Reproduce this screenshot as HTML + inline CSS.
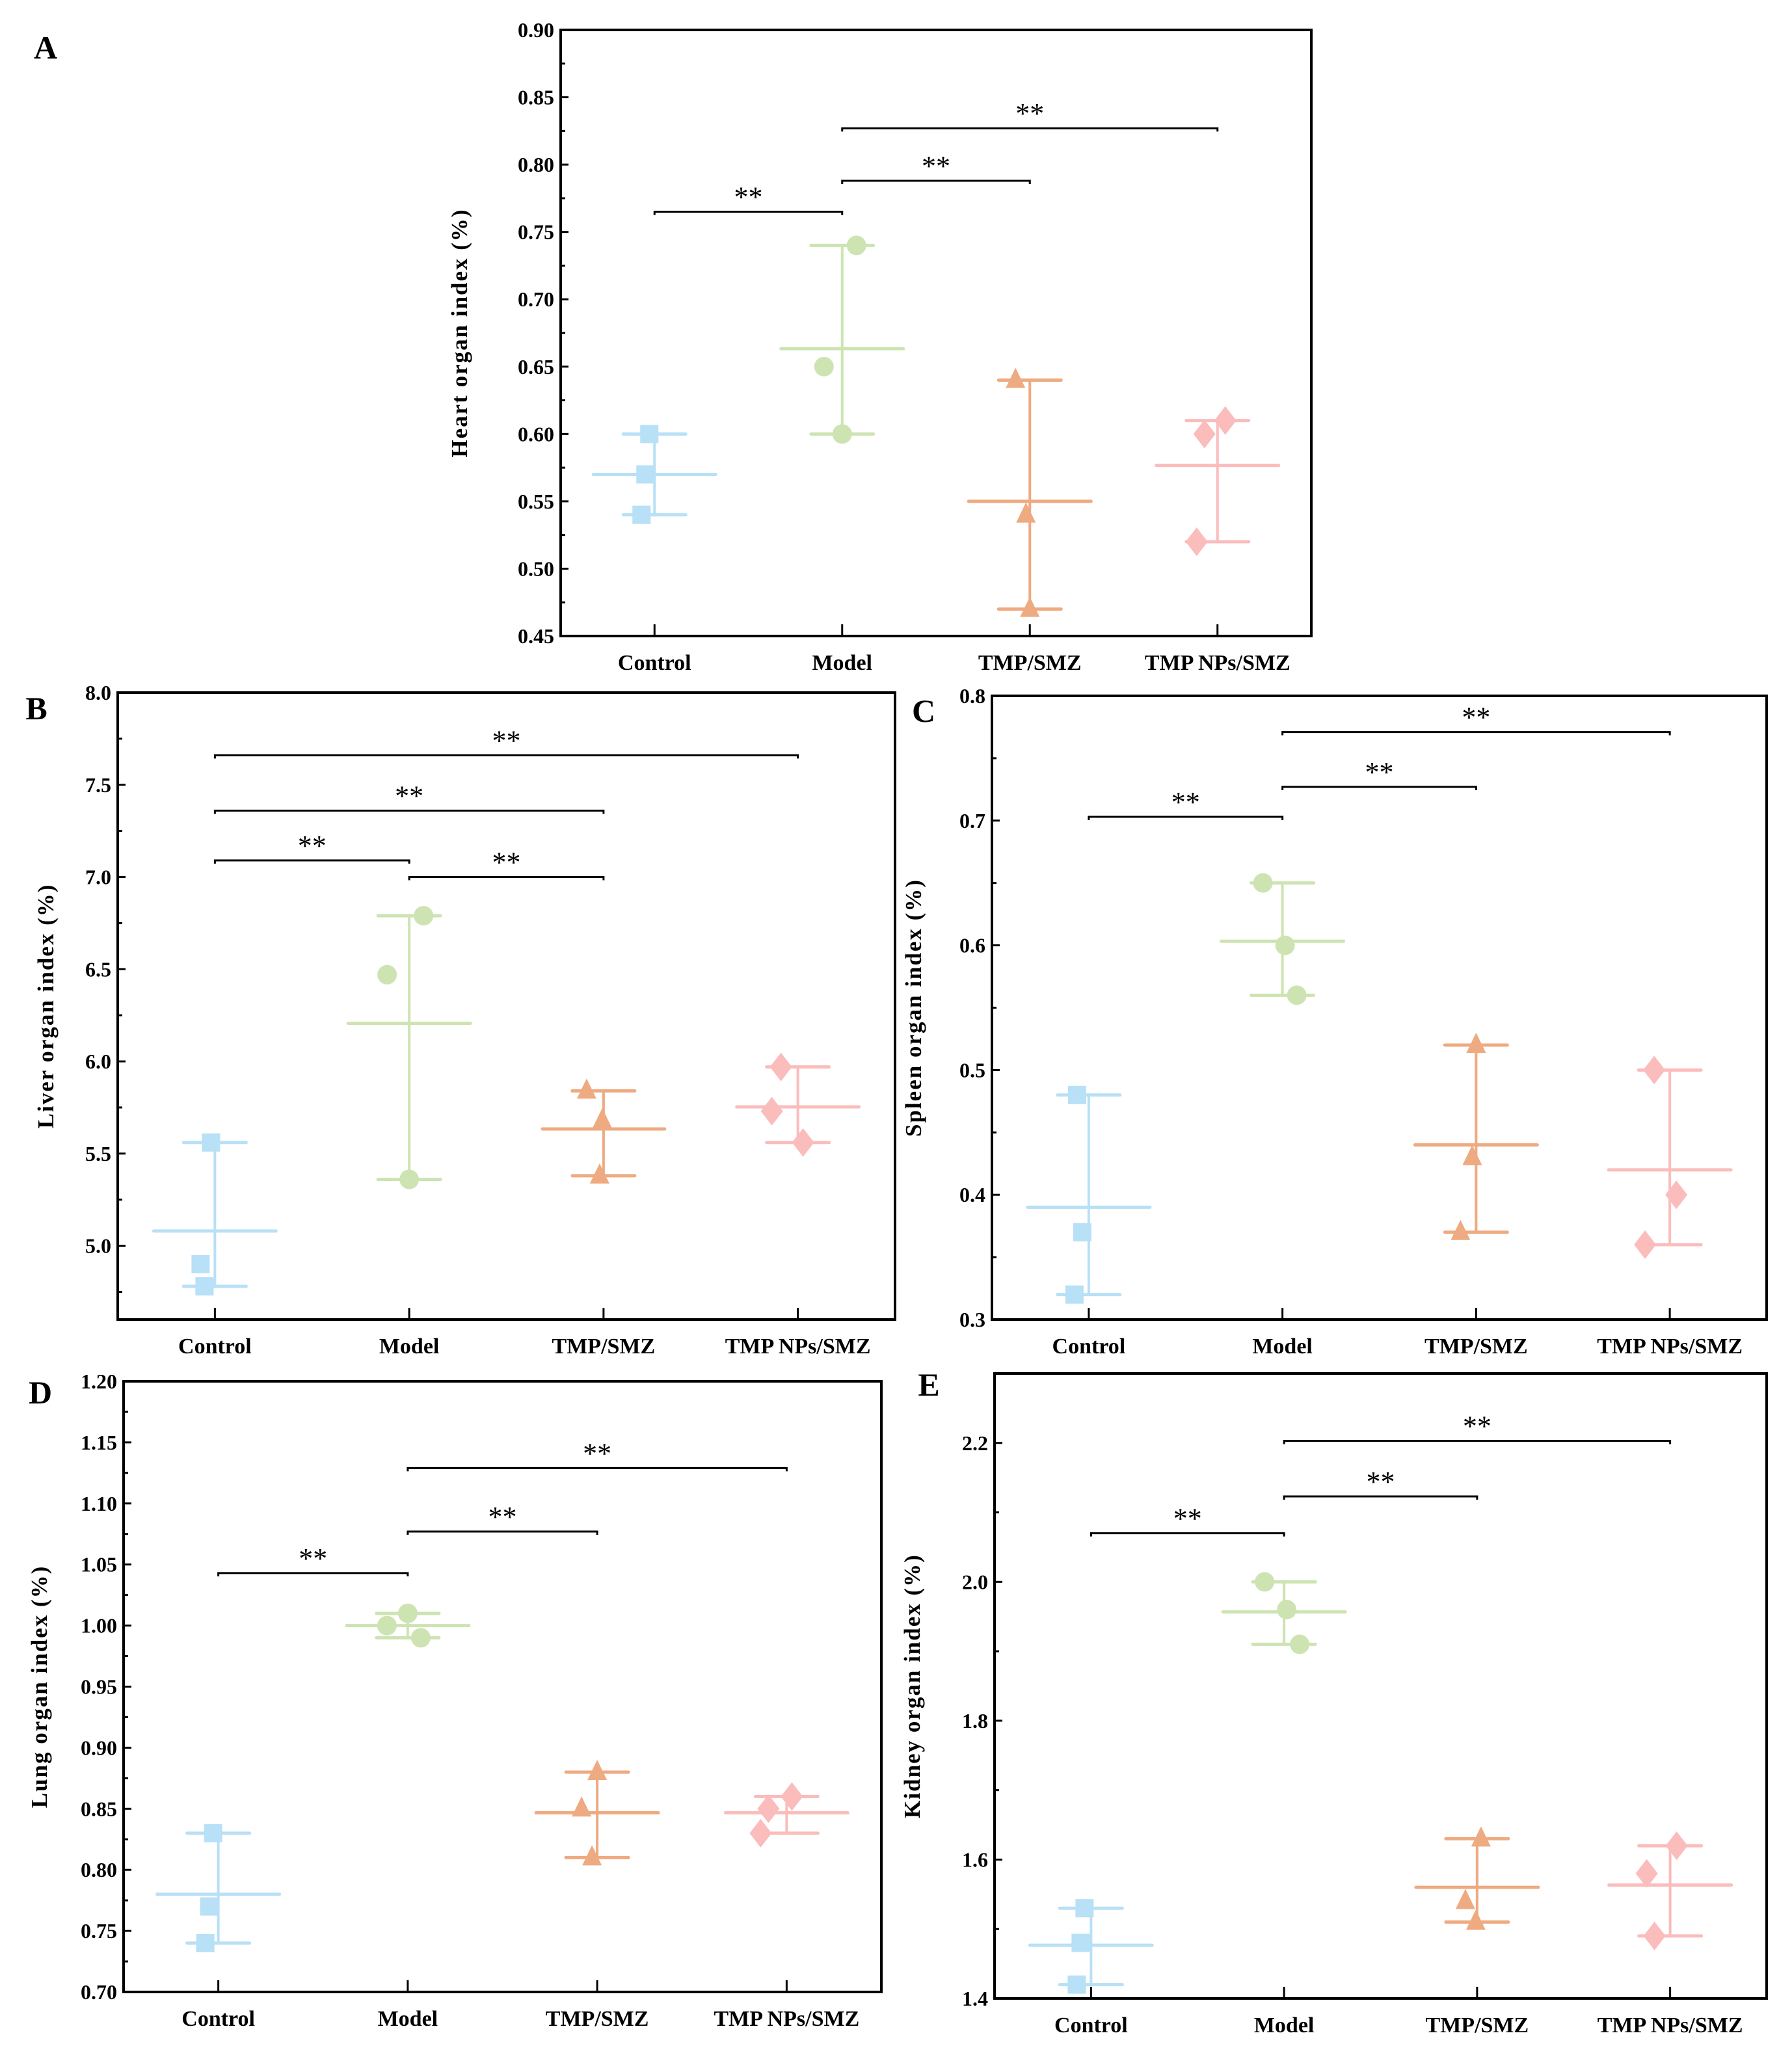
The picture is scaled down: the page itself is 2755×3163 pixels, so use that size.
<!DOCTYPE html>
<html><head><meta charset="utf-8">
<style>
html,body{margin:0;padding:0;background:#fff;}
svg{display:block;font-family:"Liberation Serif",serif;}
</style></head>
<body>
<svg id="fig" width="2755" height="3163" viewBox="0 0 2755 3163" xmlns="http://www.w3.org/2000/svg"></svg>
<script>
// ---- data ----
const categories = ["Control","Model","TMP/SMZ","TMP NPs/SMZ"];
const heartValues = [[0.60,0.57,0.54],[0.74,0.65,0.60],[0.64,0.54,0.47],[0.61,0.60,0.52]];
const liverValues = [[5.56,4.90,4.78],[6.79,6.47,5.36],[5.84,5.68,5.38],[5.97,5.73,5.56]];
const spleenValues = [[0.48,0.37,0.32],[0.65,0.60,0.56],[0.52,0.43,0.37],[0.50,0.40,0.36]];
const lungValues = [[0.83,0.77,0.74],[1.01,1.00,0.99],[0.88,0.85,0.81],[0.86,0.85,0.83]];
const kidneyValues = [[1.53,1.48,1.42],[2.00,1.96,1.91],[1.63,1.54,1.51],[1.62,1.58,1.49]];
const heartTicks = ["0.45","0.50","0.55","0.60","0.65","0.70","0.75","0.80","0.85","0.90"];
const liverTicks = ["5.0","5.5","6.0","6.5","7.0","7.5","8.0"];
const spleenTicks = ["0.3","0.4","0.5","0.6","0.7","0.8"];
const lungTicks = ["0.70","0.75","0.80","0.85","0.90","0.95","1.00","1.05","1.10","1.15","1.20"];
const kidneyTicks = ["1.4","1.6","1.8","2.0","2.2"];
// significance brackets: [fromIndex, toIndex, yValue]
const heartSig = [[0,1,0.765],[1,2,0.788],[1,3,0.827]];
const liverSig = [[0,3,7.66],[0,2,7.36],[0,1,7.09],[1,2,7.00]];
const spleenSig = [[0,1,0.703],[1,2,0.727],[1,3,0.771]];
const lungSig = [[0,1,1.043],[1,2,1.077],[1,3,1.129]];
const kidneySig = [[0,1,2.07],[1,2,2.123],[1,3,2.203]];

const NS="http://www.w3.org/2000/svg";
const svg=document.getElementById('fig');
const colors=["#b8e0f6","#cde4b2","#eeaa80","#fbbcbc"];
const shapes=["square","circle","triangle","diamond"];

function mk(tag,attrs,parent){const e=document.createElementNS(NS,tag);for(const k in attrs)e.setAttribute(k,attrs[k]);(parent||svg).appendChild(e);return e;}

function panel(cfg){
  const g=mk('g',{});
  
  
  const L=cfg.L,R=cfg.R,T=cfg.T,B=cfg.B;
  const y=v=>B-(v-cfg.ymin)/(cfg.ymax-cfg.ymin)*(B-T);
  const x=i=>L+(i+0.5)*(R-L)/categories.length;
  const lt=mk('text',{x:cfg.lx,y:cfg.ly,'font-size':50,'font-weight':'bold','text-anchor':'middle'},g);
  lt.textContent=cfg.letter;
  
  
  cfg.ticks.forEach((t,k)=>{
    const v=parseFloat(t),yy=y(v);
    mk('line',{x1:L,x2:L+12,y1:yy,y2:yy,stroke:'#000','stroke-width':3},g);
    const tx=mk('text',{x:L-10,y:yy+11,'font-size':32,'font-weight':'bold','text-anchor':'end'},g);
    tx.textContent=t;
    
    
    if(k<cfg.ticks.length-1){const mv=(v+parseFloat(cfg.ticks[k+1]))/2;mk('line',{x1:L,x2:L+7,y1:y(mv),y2:y(mv),stroke:'#000','stroke-width':3},g);}
  });
  if(cfg.extraMinor){cfg.extraMinor.forEach(v=>mk('line',{x1:L,x2:L+7,y1:y(v),y2:y(v),stroke:'#000','stroke-width':3},g));}
  categories.forEach((c,i)=>{
    mk('line',{x1:x(i),x2:x(i),y1:B,y2:B-18,stroke:'#000','stroke-width':3},g);
    const tx=mk('text',{x:x(i),y:B+52,'font-size':34,'font-weight':'bold','text-anchor':'middle'},g);
    tx.textContent=c;
    
    
  });
  const cy=(T+B)/2;
  const yt=mk('text',{x:cfg.tx,y:cy,'font-size':35,'font-weight':'bold','text-anchor':'middle','letter-spacing':'2',transform:`rotate(-90 ${cfg.tx} ${cy})`,'dominant-baseline':'middle'},g);
  yt.textContent=cfg.title;
  
  
  cfg.values.forEach((vals,i)=>{
    const col=colors[i],cx=x(i);
    const mn=Math.min(...vals),mx=Math.max(...vals),mean=vals.reduce((a,b)=>a+b,0)/vals.length;
    const gg=mk('g',{},g);
    
    
    mk('line',{x1:cx,x2:cx,y1:y(mn),y2:y(mx),stroke:col,'stroke-width':4},gg);
    mk('line',{x1:cx-48,x2:cx+48,y1:y(mn),y2:y(mn),stroke:col,'stroke-width':5,'stroke-linecap':'round'},gg);
    mk('line',{x1:cx-48,x2:cx+48,y1:y(mx),y2:y(mx),stroke:col,'stroke-width':5,'stroke-linecap':'round'},gg);
    mk('line',{x1:cx-94,x2:cx+94,y1:y(mean),y2:y(mean),stroke:col,'stroke-width':5,'stroke-linecap':'round'},gg);
    vals.forEach((v,j)=>{
      const px=cx+cfg.jitter[i][j],py=y(v);let m;
      const s=shapes[i];
      if(s==='square')m=mk('rect',{x:px-14,y:py-14,width:28,height:28,fill:col},gg);
      else if(s==='circle')m=mk('circle',{cx:px,cy:py,r:15,fill:col},gg);
      else if(s==='triangle')m=mk('polygon',{points:`${px},${py-19} ${px+15},${py+12} ${px-15},${py+12}`,fill:col},gg);
      else m=mk('polygon',{points:`${px},${py-22} ${px+17},${py} ${px},${py+22} ${px-17},${py}`,fill:col},gg);
      
      
    });
  });
  cfg.sig.forEach(s=>{
    const x1=x(s[0]),x2=x(s[1]),yy=y(s[2]);
    const b=mk('path',{d:`M${x1},${yy+5}V${yy}H${x2}V${yy+5}`,fill:'none',stroke:'#000','stroke-width':3},g);
    
    
    const st=mk('text',{x:(x1+x2)/2,y:yy-8,'font-size':44,'text-anchor':'middle'},g);
    st.textContent='**';
    
    
  });
  const fr=mk('rect',{x:L,y:T,width:R-L,height:B-T,fill:'none',stroke:'#000','stroke-width':4},g);
  
  
}

panel({name:'heart',letter:'A',lx:70,ly:90,L:862,R:2016,T:46,B:978,ymin:0.45,ymax:0.90,ticks:heartTicks,values:heartValues,sig:heartSig,title:'Heart organ index (%)',tx:710,
  jitter:[[-8,-14,-20],[22,-28,0],[-22,-6,0],[12,-20,-32]]});
panel({name:'liver',letter:'B',lx:56,ly:1106,L:181,R:1376,T:1065,B:2029,ymin:4.6,ymax:8.0,ticks:liverTicks,values:liverValues,sig:liverSig,title:'Liver organ index (%)',tx:74,extraMinor:[4.75],
  jitter:[[-6,-22,-16],[22,-34,0],[-26,-2,-6],[-26,-40,8]]});
panel({name:'spleen',letter:'C',lx:1420,ly:1110,L:1525,R:2716,T:1070,B:2029,ymin:0.3,ymax:0.8,ticks:spleenTicks,values:spleenValues,sig:spleenSig,title:'Spleen organ index (%)',tx:1408,
  jitter:[[-18,-10,-22],[-30,4,22],[0,-6,-24],[-24,10,-38]]});
panel({name:'lung',letter:'D',lx:62,ly:2158,L:190,R:1355,T:2124,B:3063,ymin:0.70,ymax:1.20,ticks:lungTicks,values:lungValues,sig:lungSig,title:'Lung organ index (%)',tx:64,
  jitter:[[-8,-14,-20],[0,-32,20],[0,-24,-8],[8,-28,-40]]});
panel({name:'kidney',letter:'E',lx:1428,ly:2146,L:1529,R:2716,T:2112,B:3073,ymin:1.4,ymax:2.3,ticks:kidneyTicks,values:kidneyValues,sig:kidneySig,title:'Kidney organ index (%)',tx:1406,extraMinor:[2.3],
  jitter:[[-10,-16,-22],[-30,4,24],[6,-18,-2],[10,-36,-24]]});
</script>
</body></html>
